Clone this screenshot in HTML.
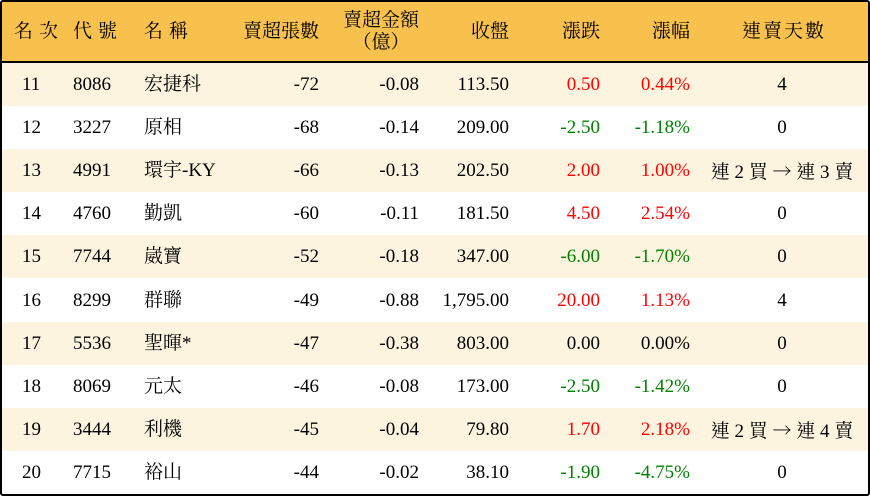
<!DOCTYPE html><html><head><meta charset="utf-8"><style>
body{margin:0;width:870px;height:496px;background:#fff;overflow:hidden}
#t{position:absolute;left:0;top:0;width:866px;height:492px;border:2px solid #000;border-radius:3px;overflow:hidden;font-family:"Liberation Serif","Noto Serif CJK TC","Noto Serif CJK SC",serif;font-size:19px;color:#000}
.h{position:absolute;left:0;top:0;width:866px;height:59px;background:#f8c04c;border-bottom:2px solid #000}
.r{position:absolute;left:0;width:866px;height:43px}
.c{position:absolute;top:0;line-height:43px;white-space:nowrap}
.hc{position:absolute;top:0;line-height:59px;white-space:nowrap;letter-spacing:6px}
.R{color:#f00}.G{color:#008000}
.ar{font-family:"Noto Serif CJK SC",serif}
</style></head><body><div id="t">
<div class="h">
<span class="hc" style="left:12px">名次</span>
<span class="hc" style="left:71px">代號</span>
<span class="hc" style="left:142px">名稱</span>
<span class="hc" style="right:549px;letter-spacing:0">賣超張數</span>
<span style="position:absolute;right:449px;top:8px;line-height:22px;text-align:center">賣超金額<br>（億）</span>
<span class="hc" style="right:359px;letter-spacing:0">收盤</span>
<span class="hc" style="right:268px;letter-spacing:0">漲跌</span>
<span class="hc" style="right:178px;letter-spacing:0">漲幅</span>
<span class="hc" style="left:740px;letter-spacing:2px">連賣天數</span>
</div>
<div id="rows"></div>
</div>
<script>
var A=' <span class="ar">→</span> ';
var d=[["11","8086","宏捷科","-72","-0.08","113.50","0.50","0.44%","4","R"],
["12","3227","原相","-68","-0.14","209.00","-2.50","-1.18%","0","G"],
["13","4991","環宇-KY","-66","-0.13","202.50","2.00","1.00%","連 2 買"+A+"連 3 賣","R"],
["14","4760","勤凱","-60","-0.11","181.50","4.50","2.54%","0","R"],
["15","7744","崴寶","-52","-0.18","347.00","-6.00","-1.70%","0","G"],
["16","8299","群聯","-49","-0.88","1,795.00","20.00","1.13%","4","R"],
["17","5536","聖暉*","-47","-0.38","803.00","0.00","0.00%","0",""],
["18","8069","元太","-46","-0.08","173.00","-2.50","-1.42%","0","G"],
["19","3444","利機","-45","-0.04","79.80","1.70","2.18%","連 2 買"+A+"連 4 賣","R"],
["20","7715","裕山","-44","-0.02","38.10","-1.90","-4.75%","0","G"]];
var h="";d.forEach(function(a,i){var top=61+i*43.1;
h+='<div class="r" style="top:'+top+'px;background:'+(i%2?'#fff':'#fdf4df')+'">'+
'<span class="c" style="left:20px">'+a[0]+'</span>'+
'<span class="c" style="left:71px">'+a[1]+'</span>'+
'<span class="c" style="left:142px">'+a[2]+'</span>'+
'<span class="c" style="right:549px">'+a[3]+'</span>'+
'<span class="c" style="right:449px">'+a[4]+'</span>'+
'<span class="c" style="right:359px">'+a[5]+'</span>'+
'<span class="c '+a[9]+'" style="right:268px">'+a[6]+'</span>'+
'<span class="c '+a[9]+'" style="right:178px">'+a[7]+'</span>'+
'<span class="c" style="left:690px;width:180px;text-align:center">'+a[8]+'</span></div>';});
document.getElementById("rows").innerHTML=h;
</script></body></html>
